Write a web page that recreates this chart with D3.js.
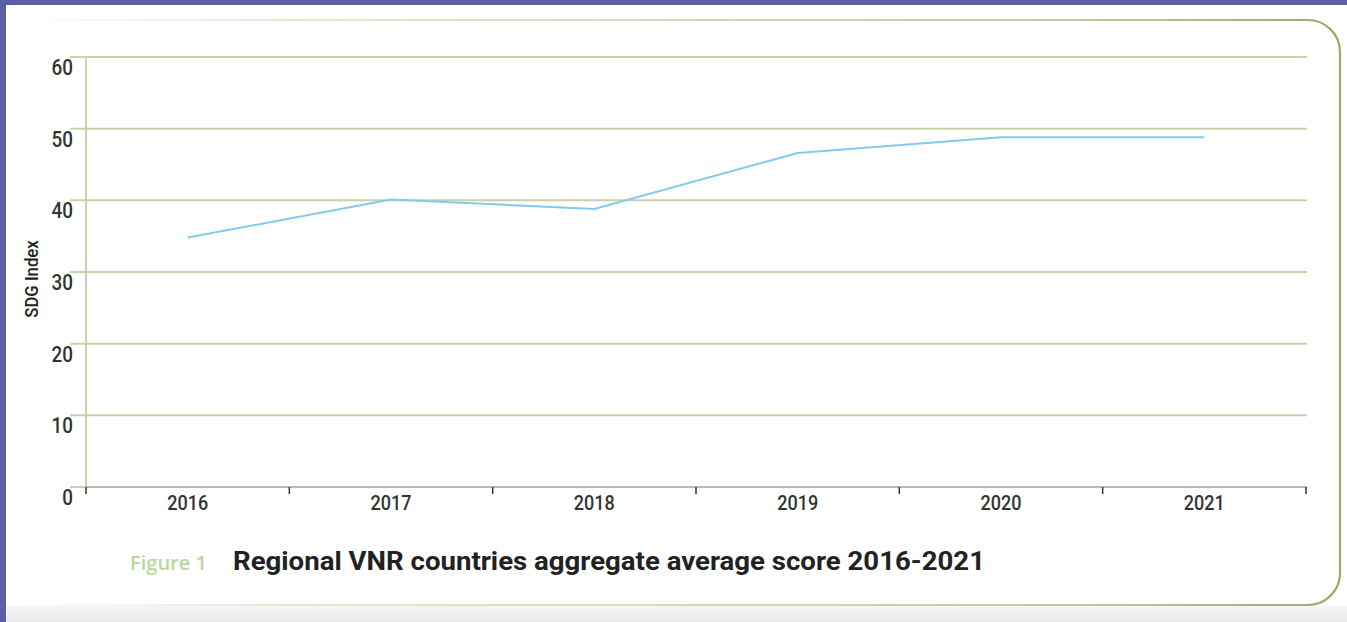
<!DOCTYPE html>
<html>
<head>
<meta charset="utf-8">
<title>Regional VNR countries aggregate average score 2016-2021</title>
<script src="https://cdn.jsdelivr.net/npm/d3@7"></script>
<style>
  html, body { margin: 0; padding: 0; background: #5d5fa4; }
  svg { display: block; }
</style>
</head>
<body>
<div id="chart"></div>
<script>
// data
var years = ["2016", "2017", "2018", "2019", "2020", "2021"];
var scores = [34.8, 40.1, 38.8, 46.6, 48.8, 48.8];
var yTicks = [0, 10, 20, 30, 40, 50, 60];

var W = 1347, H = 622;
var svg = d3.select("#chart").append("svg")
  .attr("width", W).attr("height", H);

var defs = svg.append("defs");
var g1 = defs.append("linearGradient").attr("id", "borderTop")
  .attr("gradientUnits", "userSpaceOnUse")
  .attr("x1", 20).attr("x2", 1340).attr("y1", 0).attr("y2", 0);
g1.append("stop").attr("offset", "0").attr("stop-color", "#c3cca0").attr("stop-opacity", 0);
g1.append("stop").attr("offset", "0.2").attr("stop-color", "#c3cca0").attr("stop-opacity", 0.45);
g1.append("stop").attr("offset", "0.8").attr("stop-color", "#b9c493").attr("stop-opacity", 0.9);
g1.append("stop").attr("offset", "1").attr("stop-color", "#98ab66").attr("stop-opacity", 1);

var sh = defs.append("linearGradient").attr("id", "shadow")
  .attr("x1", 0).attr("x2", 0).attr("y1", 0).attr("y2", 1);
sh.append("stop").attr("offset", "0").attr("stop-color", "#f6f6f7");
sh.append("stop").attr("offset", "1").attr("stop-color", "#e9e9ec");

// page background (white panel inside purple frame)
svg.append("rect").attr("x", 6).attr("y", 5).attr("width", W - 6).attr("height", H - 5)
  .attr("fill", "#ffffff");
svg.append("rect").attr("x", 6).attr("y", 606).attr("width", W - 6).attr("height", H - 606)
  .attr("fill", "url(#shadow)");

// card outline: top and bottom fade out to the left, rounded right side
var r = 32, cLeft = 20, cTop = 20, cRight = 1340, cBottom = 605;
svg.append("path")
  .attr("d", "M" + cLeft + "," + cTop + " H" + (cRight - r) +
    " A" + r + "," + r + " 0 0 1 " + cRight + "," + (cTop + r) +
    " V" + (cBottom - r) +
    " A" + r + "," + r + " 0 0 1 " + (cRight - r) + "," + cBottom +
    " H" + cLeft)
  .attr("fill", "#ffffff")
  .attr("stroke", "url(#borderTop)")
  .attr("stroke-width", 2.2);

var x = d3.scaleBand().domain(years).range([86, 1306]);
var y = d3.scaleLinear().domain([0, 60]).range([487, 57]);

// gridlines
svg.append("g").selectAll("line").data(yTicks.filter(function(d) { return d > 0; }))
  .enter().append("line")
  .attr("x1", 70).attr("x2", 1307)
  .attr("y1", function(d) { return y(d); })
  .attr("y2", function(d) { return y(d); })
  .attr("stroke", "#cbd1ad").attr("stroke-width", 2);

// zero line stub left of axis
svg.append("line").attr("x1", 70).attr("x2", 86).attr("y1", y(0)).attr("y2", y(0))
  .attr("stroke", "#cbd1ad").attr("stroke-width", 2);

// y axis line
svg.append("line").attr("x1", 86).attr("x2", 86).attr("y1", y(60)).attr("y2", y(0))
  .attr("stroke", "#cbd1ad").attr("stroke-width", 2);

// y tick labels (hang below their gridline)
svg.append("g").selectAll("text").data(yTicks).enter().append("text")
  .attr("transform", function(d) { return "translate(73," + (y(d) + 18) + ") scale(0.86,1)"; })
  .attr("text-anchor", "end")
  .style("font-family", "Roboto, sans-serif")
  .style("font-size", "22px")
  .style("font-weight", 500)
  .attr("fill", "#333")
  .text(function(d) { return d; });

// x axis
var xAxis = svg.append("g").attr("transform", "translate(0," + y(0) + ")");
xAxis.append("line").attr("x1", 86).attr("x2", 1307).attr("y1", 0).attr("y2", 0)
  .attr("stroke", "#777").attr("stroke-width", 1.2);
var tickPos = years.map(function(d) { return x(d); }).concat([x.range()[1]]);
xAxis.selectAll("line.tick").data(tickPos).enter().append("line")
  .attr("class", "tick")
  .attr("x1", function(d) { return d; }).attr("x2", function(d) { return d; })
  .attr("y1", 0).attr("y2", 7)
  .attr("stroke", "#333").attr("stroke-width", 1.5);
xAxis.selectAll("text").data(years).enter().append("text")
  .attr("transform", function(d) { return "translate(" + (x(d) + x.bandwidth() / 2) + ",23) scale(0.86,1)"; })
  .attr("text-anchor", "middle")
  .style("font-family", "Roboto, sans-serif")
  .style("font-size", "21px")
  .style("font-weight", 500)
  .attr("fill", "#333")
  .text(function(d) { return d; });

// y axis title
svg.append("text")
  .attr("transform", "translate(38,279) rotate(-90) scale(0.88,1)")
  .attr("text-anchor", "middle")
  .style("font-family", "Roboto, sans-serif")
  .style("font-size", "19px")
  .style("font-weight", 500)
  .attr("fill", "#222")
  .text("SDG Index");

// the line
var line = d3.line()
  .x(function(d, i) { return x(years[i]) + x.bandwidth() / 2; })
  .y(function(d) { return y(d); });
svg.append("path").datum(scores)
  .attr("d", line)
  .attr("fill", "none")
  .attr("stroke", "#82cbec")
  .attr("stroke-width", 2);

// caption
svg.append("text")
  .attr("x", 130).attr("y", 570)
  .style("font-family", "'Open Sans', sans-serif")
  .style("font-size", "20px")
  .style("font-weight", 600)
  .attr("fill", "#b9d79f")
  .attr("textLength", 77)
  .attr("lengthAdjust", "spacingAndGlyphs")
  .text("Figure 1");
svg.append("text")
  .attr("x", 233).attr("y", 570)
  .style("font-family", "Roboto, sans-serif")
  .style("font-size", "26px")
  .style("font-weight", 700)
  .attr("fill", "#222")
  .attr("textLength", 752)
  .attr("lengthAdjust", "spacingAndGlyphs")
  .text("Regional VNR countries aggregate average score 2016-2021");
</script>
</body>
</html>
